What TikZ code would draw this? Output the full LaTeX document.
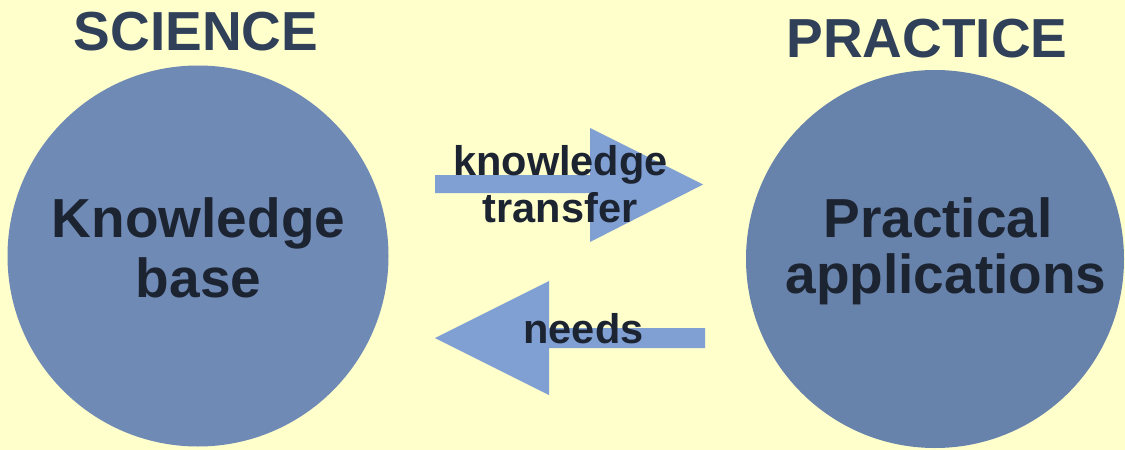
\documentclass[tikz,border=0pt]{standalone}
\usepackage{fontspec}
\setmainfont{Liberation Sans}
\definecolor{bg}{HTML}{FFFFCC}
\definecolor{leftblue}{HTML}{708AB6}
\definecolor{rightblue}{HTML}{6883AB}
\definecolor{arrowblue}{HTML}{80A0D4}
\definecolor{titlecol}{HTML}{2F4058}
\definecolor{innercol}{HTML}{1C2331}
\tikzset{
  disc/.style={circle, inner sep=0pt, minimum size=#1},
  titletext/.style={anchor=base, inner sep=0pt, text=titlecol, font=\fontsize{55}{60}\selectfont\bfseries},
  bigtext/.style={anchor=base, inner sep=0pt, text=innercol, font=\fontsize{55}{60}\selectfont\bfseries},
  smalltext/.style={anchor=base, inner sep=0pt, text=innercol, font=\fontsize{41.5}{47}\selectfont\bfseries},
  blockarrow/.style={fill=arrowblue, draw=none}
}
\begin{document}
\begin{tikzpicture}[x=1pt,y=-1pt]
\fill[bg] (0,0) rectangle (1125,450);
\useasboundingbox (0,0) rectangle (1125,450);
% circles
\node[disc=381pt, fill=leftblue] (kb) at (198,256) {};
\node[disc=378pt, fill=rightblue] (pa) at (935,259) {};
% titles
\node[titletext] (sci) at (196,50) {SCIENCE};
\node[titletext] (prac) at (927,57) {PRACTICE};
% arrows
\coordinate (t0) at (435,175);
\fill[blockarrow] (435,175) -- (590,175) -- (590,128) -- (703,184.5) -- (590,242) -- (590,193) -- (435,193) -- cycle;
\fill[blockarrow] (705,328) -- (549,328) -- (549,281) -- (435,338) -- (549,395) -- (549,348) -- (705,348) -- cycle;
% circle texts
\node[bigtext] (kb1) at (198.5,237) {Knowledge};
\node[bigtext] (kb2) at (198.5,297) {base};
\node[bigtext] (pa1) at (938,237) {Practical};
\node[bigtext] (pa2) at (946,293) {applications};
% arrow labels
\node[smalltext] (kt1) at (560.5,175) {knowledge};
\node[smalltext] (kt2) at (560,222) {transfer};
\node[smalltext] (nd) at (583.5,343) {needs};
\end{tikzpicture}
\end{document}
